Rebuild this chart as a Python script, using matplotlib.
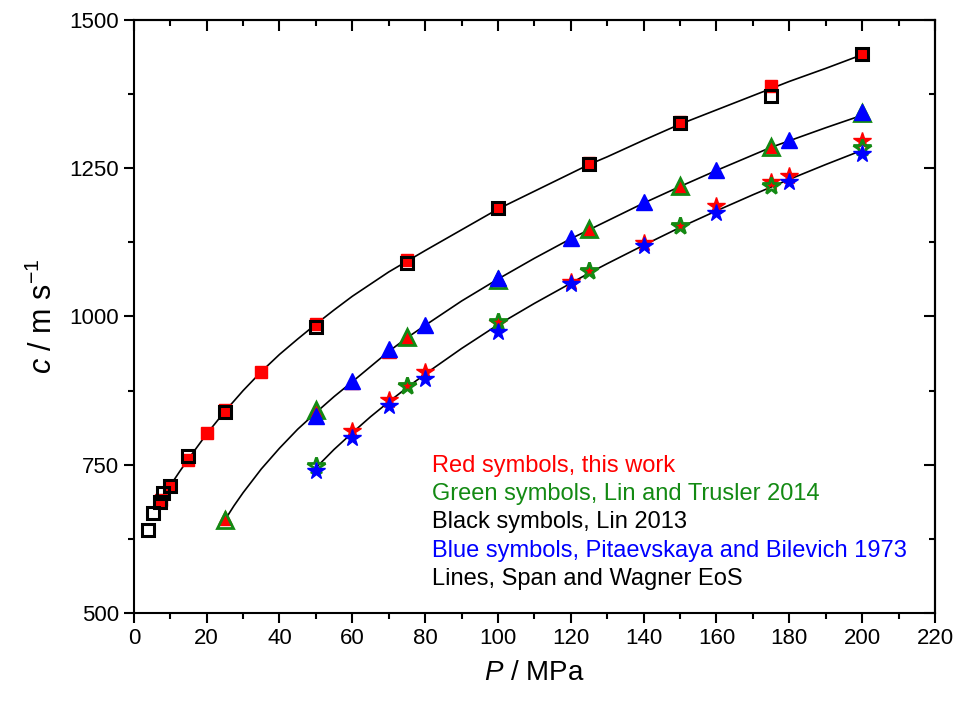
import matplotlib
matplotlib.use("Agg")
import matplotlib.pyplot as plt
from matplotlib.ticker import MultipleLocator

plt.rcParams['font.family'] = ['Liberation Sans', 'DejaVu Sans']
plt.rcParams['mathtext.fontset'] = 'custom'
plt.rcParams['mathtext.rm'] = 'Liberation Sans'
plt.rcParams['mathtext.it'] = 'Liberation Sans:italic'

RED = '#ff0000'
GREEN = '#138a13'
BLUE = '#0000ff'

# Span and Wagner EoS curves (three isotherms)
line1_p = [7.5, 10, 12.5, 15, 17.5, 20, 22.5, 25, 30, 35, 40, 45, 50, 55, 60, 70, 75, 80,
           90, 100, 110, 120, 125, 130, 140, 150, 160, 170, 175, 180, 190, 200]
line1_c = [690, 715, 738, 760, 781, 802, 821, 840, 875, 907, 936, 962, 987, 1011, 1034,
           1075, 1093, 1111, 1146, 1181, 1211, 1241, 1256, 1269, 1297, 1324, 1348, 1372,
           1384, 1396, 1418, 1441]
line2_p = [25, 27.5, 30, 35, 40, 45, 50, 55, 60, 70, 75, 80, 90, 100, 110, 120, 125, 130,
           140, 150, 160, 170, 175, 180, 190, 200]
line2_c = [657, 681, 703, 743, 778, 810, 838, 865, 890, 941, 964, 985, 1026, 1063, 1098,
           1131, 1146, 1161, 1191, 1219, 1246, 1272, 1285, 1296, 1318, 1339]
line3_p = [50, 55, 60, 65, 70, 75, 80, 90, 100, 110, 120, 125, 130, 140, 150, 160, 170,
           175, 180, 190, 200]
line3_c = [745, 776, 804, 831, 856, 880, 903, 946, 986, 1022, 1056, 1073, 1089, 1120, 1150,
           1178, 1205, 1218, 1231, 1256, 1280]

# this work (red)
red_sq_p = [7.5, 10, 15, 20, 25, 35, 50, 75, 100, 125, 150, 175, 200]
red_sq_c = [690, 715, 758, 803, 842, 907, 988, 1095, 1183, 1258, 1327, 1388, 1443]
red_tri_p = [25, 50, 60, 70, 75, 125, 150, 175, 200]
red_tri_c = [660, 840, 889, 942, 965, 1147, 1219, 1287, 1343]
red_star_p = [60, 70, 75, 80, 100, 120, 125, 140, 150, 160, 175, 180, 200]
red_star_c = [807, 860, 882, 907, 989, 1058, 1076, 1124, 1153, 1186, 1227, 1236, 1295]

# Lin and Trusler 2014 (green)
green_tri_p = [25, 50, 75, 100, 125, 150, 175, 200]
green_tri_c = [657, 842, 965, 1062, 1147, 1219, 1286, 1343]
green_star_p = [50, 75, 100, 125, 150, 175, 200]
green_star_c = [748, 882, 991, 1076, 1153, 1219, 1284]

# Lin 2013 (black)
black_sq_p = [3.8, 5.3, 7.3, 8, 10, 15, 25, 50, 75, 100, 125, 150, 175, 200]
black_sq_c = [640, 668, 688, 702, 714, 765, 839, 982, 1090, 1182, 1257, 1326, 1372, 1442]

# Pitaevskaya and Bilevich 1973 (blue)
blue_tri_p = [50, 60, 70, 80, 100, 120, 140, 160, 180, 200]
blue_tri_c = [833, 891, 945, 986, 1064, 1132, 1193, 1247, 1298, 1345]
blue_star_p = [50, 60, 70, 80, 100, 120, 140, 160, 180, 200]
blue_star_c = [740, 795, 849, 895, 974, 1054, 1119, 1174, 1226, 1274]

legend_lines = [
    ("Red symbols, this work", RED),
    ("Green symbols, Lin and Trusler 2014", GREEN),
    ("Black symbols, Lin 2013", 'black'),
    ("Blue symbols, Pitaevskaya and Bilevich 1973", BLUE),
    ("Lines, Span and Wagner EoS", 'black'),
]

fig = plt.figure(figsize=(9.56, 7.04), dpi=100)
ax = fig.add_axes([0.140, 0.129, 0.838, 0.843])

for xs, ys in [(line1_p, line1_c), (line2_p, line2_c), (line3_p, line3_c)]:
    ax.plot(xs, ys, color='black', lw=1.2, zorder=1)

ax.plot(red_sq_p, red_sq_c, 's', ms=8, color=RED, mec=RED, zorder=2)
ax.plot(red_tri_p, red_tri_c, '^', ms=10, color=RED, mec=RED, zorder=2)
ax.plot(red_star_p, red_star_c, '*', ms=13, color=RED, mec=RED, zorder=2)

ax.plot(green_tri_p, green_tri_c, '^', ms=11, mfc='none', mec=GREEN, mew=2, zorder=3)
ax.plot(green_star_p, green_star_c, '*', ms=13, mfc='none', mec=GREEN, mew=2, zorder=3)

ax.plot(black_sq_p, black_sq_c, 's', ms=8, mfc='none', mec='black', mew=2.2, zorder=4)

ax.plot(blue_tri_p, blue_tri_c, '^', ms=11, color=BLUE, mec=BLUE, zorder=5)
ax.plot(blue_star_p, blue_star_c, '*', ms=13, color=BLUE, mec=BLUE, zorder=5)

ax.set_xlim(0, 220)
ax.set_ylim(500, 1500)
ax.xaxis.set_major_locator(MultipleLocator(20))
ax.xaxis.set_minor_locator(MultipleLocator(10))
ax.yaxis.set_major_locator(MultipleLocator(250))
ax.yaxis.set_minor_locator(MultipleLocator(125))
ax.tick_params(which='both', direction='out', width=1.5, labelsize=16, top=False, right=False)
ax.tick_params(which='major', length=7)
ax.tick_params(which='minor', length=4)
for sp in ax.spines.values():
    sp.set_linewidth(1.5)

# inward ticks on the top and right edges
top = ax.secondary_xaxis('top')
top.xaxis.set_major_locator(MultipleLocator(20))
top.xaxis.set_minor_locator(MultipleLocator(10))
top.tick_params(which='both', direction='in', width=1.5, labeltop=False)
top.tick_params(which='major', length=8)
top.tick_params(which='minor', length=4)
top.spines['top'].set_linewidth(1.5)
right = ax.secondary_yaxis('right')
right.yaxis.set_major_locator(MultipleLocator(250))
right.yaxis.set_minor_locator(MultipleLocator(125))
right.tick_params(which='both', direction='in', width=1.5, labelright=False)
right.tick_params(which='major', length=8)
right.tick_params(which='minor', length=4)
right.spines['right'].set_linewidth(1.5)

ax.set_xlabel('$P$ / MPa', fontsize=20, labelpad=8)
ax.set_ylabel('$c$ / m s$^{-1}$', fontsize=22, labelpad=8)

for i, (txt, col) in enumerate(legend_lines):
    ax.text(82, 748 - i * 47.5, txt, color=col, fontsize=17, va='center', ha='left')

fig.savefig('out.png', dpi=100)
